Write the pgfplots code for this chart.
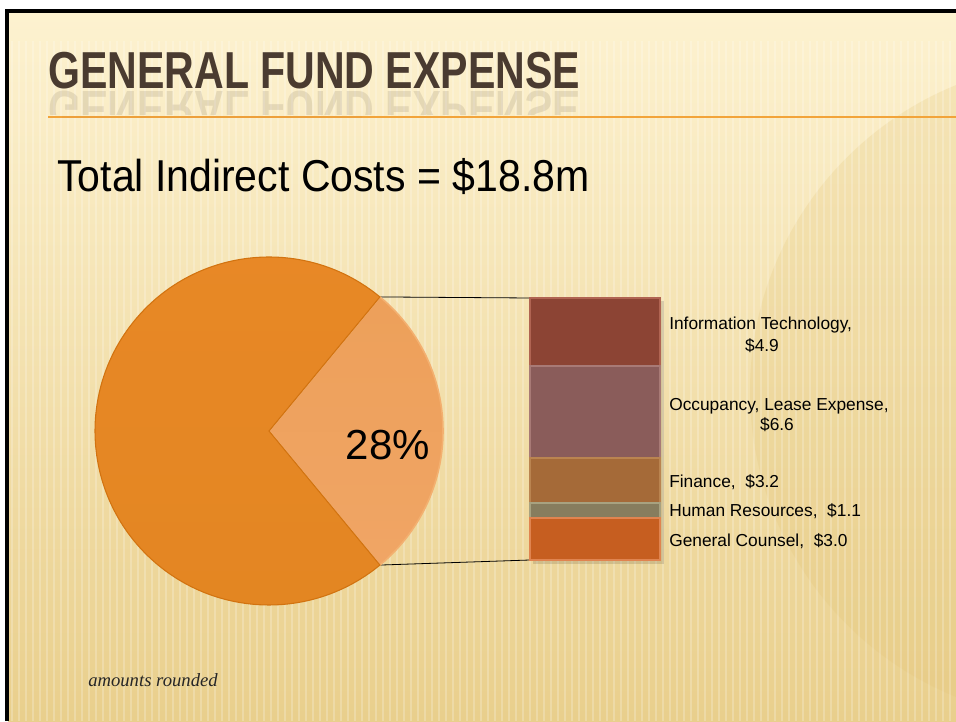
\documentclass[border=0pt]{standalone}
\usepackage{pgfplots}
\pgfplotsset{compat=1.18}
\usepackage{fontspec}
\setmainfont{Liberation Sans}
\newfontfamily\serifit{Liberation Serif}
\definecolor{bgtop}{HTML}{FDF2D0}
\definecolor{bgbot}{HTML}{E9CF8C}
\definecolor{bgcirc}{HTML}{E2C374}
\definecolor{titlebrown}{HTML}{4A3B30}
\definecolor{linec}{HTML}{F2A43A}
\definecolor{pieA1}{HTML}{E88826}
\definecolor{pieA2}{HTML}{D8760A}
\definecolor{pieA3}{HTML}{E38622}
\definecolor{pieAb}{HTML}{D27310}
\definecolor{pieB1}{HTML}{EDA05A}
\definecolor{pieB2}{HTML}{E18D47}
\definecolor{pieB3}{HTML}{F0A565}
\definecolor{pieBb}{HTML}{F3B070}
\definecolor{itA}{HTML}{B06452}
\definecolor{itB}{HTML}{8C4434}
\definecolor{ocA}{HTML}{A87A76}
\definecolor{ocB}{HTML}{8A5C5A}
\definecolor{fiA}{HTML}{BA8450}
\definecolor{fiB}{HTML}{A56A38}
\definecolor{hrA}{HTML}{A8A280}
\definecolor{hrB}{HTML}{877D5E}
\definecolor{gcA}{HTML}{E08450}
\definecolor{gcB}{HTML}{C65E20}
\tikzset{lab/.style={inner sep=0, font=\fontsize{13}{13}\selectfont}}
% pie data (percent) and geometry in pixels
\def\myRest{72}
\def\myShare{28}
\pgfmathsetmacro\myHalfAng{\myShare/(\myShare+\myRest)*360/2}
\pgfmathsetmacro\myEndAng{360-\myHalfAng}
\pgfmathsetmacro\myPx{269+174*cos(\myHalfAng)}
\pgfmathsetmacro\myPyT{290+174*sin(\myHalfAng)}
\pgfmathsetmacro\myPyB{290-174*sin(\myHalfAng)}
\begin{document}
\begin{tikzpicture}[x=0.75pt,y=0.75pt]
% ---- slide background and texts (pixel units) ----
\fill[white] (0,0) rectangle (956,721);
\shade[top color=bgtop, bottom color=bgbot] (8,0) rectangle (956,710);
\begin{scope}
  \clip (8,0) rectangle (956,710);
  \fill[bgcirc, opacity=0.22] (1080,330) circle (330);
  \foreach \x in {12,19,...,956} \draw[white, opacity=0.22, line width=1.1pt] (\x,0) -- (\x,680);
\end{scope}
\draw[black, line width=2.4pt] (7,0) -- (7,710) -- (956,710);
\node[anchor=base west, inner sep=0, text=titlebrown, font=\fontsize{39}{39}\selectfont\bfseries] at (48,632) {\scalebox{0.79}[1]{GENERAL FUND EXPENSE}};
\begin{scope}
  \clip (40,606) rectangle (600,630);
  \node[anchor=base west, inner sep=0, text=titlebrown, opacity=0.12, font=\fontsize{39}{39}\selectfont\bfseries] at (48,629) {\scalebox{0.79}[-1]{GENERAL FUND EXPENSE}};
\end{scope}
\draw[linec, line width=1.1pt] (48,604) -- (956,604);
\draw[linec!90!brown, line width=2.2pt] (62,604) -- (362,604);
\node[anchor=base west, inner sep=0, font=\fontsize{33.5}{33.5}\selectfont] at (57,529) {\scalebox{0.918}[1]{Total Indirect Costs = \$18.8m}};
\node[anchor=base west, inner sep=0, text=black!85, font=\serifit\itshape\fontsize{14}{14}\selectfont] at (88,35) {amounts rounded};
\fill[black, opacity=0.12] (533,157) rectangle (664,420);
% ---- chart: one axis over the whole slide, data units = pixels ----
\begin{axis}[scale only axis, width=717pt, height=540.75pt,
  xmin=0, xmax=956, ymin=0, ymax=721, hide axis, clip=false,
  ybar stacked, bar width=97.5pt]
  % stacked bar: invisible base at y=161 px, then segments in $m (262 px = 18.8)
  \addplot[draw=none, fill=none] coordinates {(595,161)};
  \addplot[fill=gcB, draw=gcA, line width=1.2pt, y filter/.expression={y*262/18.8}] coordinates {(595,3.0)};
  \addplot[fill=hrB, draw=hrA, line width=1.2pt, y filter/.expression={y*262/18.8}] coordinates {(595,1.1)};
  \addplot[fill=fiB, draw=fiA, line width=1.2pt, y filter/.expression={y*262/18.8}] coordinates {(595,3.2)};
  \addplot[fill=ocB, draw=ocA, line width=1.2pt, y filter/.expression={y*262/18.8}] coordinates {(595,6.6)};
  \addplot[fill=itB, draw=itA, line width=1.2pt, y filter/.expression={y*262/18.8}] coordinates {(595,4.9)};
  % pie
  \path[top color=pieA1, middle color=pieA2, bottom color=pieA3, draw=pieAb, line width=0.8pt]
    (269,290) -- (\myPx,\myPyT) arc[start angle=\myHalfAng, end angle=\myEndAng, radius=130.5pt] -- cycle;
  \path[top color=pieB1, middle color=pieB2, bottom color=pieB3, draw=pieBb, line width=1.2pt]
    (269,290) -- (\myPx,\myPyB) arc[start angle=-\myHalfAng, end angle=\myHalfAng, radius=130.5pt] -- cycle;
  % connectors
  \draw[black, line width=0.6pt] (\myPx,\myPyT) -- (530,423);
  \draw[black, line width=0.6pt] (\myPx,\myPyB) -- (530,161);
  % labels
  \node[lab, anchor=base west] at (669,391) {Information Technology,};
  \node[lab, anchor=base] at (762,369) {\$4.9};
  \node[lab, anchor=base west] at (669,310.3) {Occupancy, Lease Expense,};
  \node[lab, anchor=base] at (777,290.3) {\$6.6};
  \node[lab, anchor=base west] at (669,233) {Finance,\ \ \$3.2};
  \node[lab, anchor=base west] at (669,204) {Human Resources,\ \ \$1.1};
  \node[lab, anchor=base west] at (669,174) {General Counsel,\ \ \$3.0};
\end{axis}
\node[font=\fontsize{31.5}{31.5}\selectfont] at (388,276) {28\%};
\pgfresetboundingbox
\useasboundingbox (0,0) rectangle (956,721);
\end{tikzpicture}
\end{document}
